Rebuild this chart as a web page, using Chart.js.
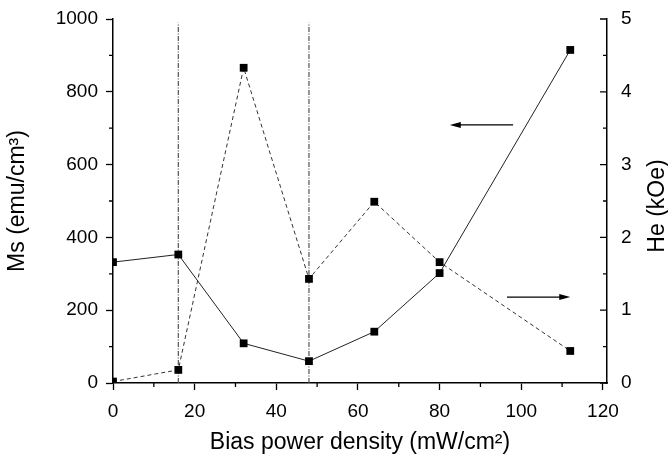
<!DOCTYPE html>
<html>
<head>
<meta charset="utf-8">
<script src="https://cdn.jsdelivr.net/npm/chart.js@4"></script>
<style>
html, body { margin: 0; padding: 0; background: #fff; }
#caja { width: 668px; height: 456px; }
</style>
</head>
<body>
<div id="caja"><canvas id="grafica"></canvas></div>
<script>
// Datos
const potencia = [0, 16, 32, 48, 64, 80, 112];           // mW/cm2
const ms = [332, 353, 109, 60, 141, 302, 915];           // emu/cm3 (eje izquierdo)
const he = [0.02, 0.18, 4.33, 1.43, 2.49, 1.66, 0.44];   // kOe (eje derecho)
const lineasX = [16, 48];       // líneas verticales punto-raya
const topeLineas = 990;         // hasta dónde suben (escala Ms)
const flechaMs = { desde: 98, hasta: 82.5, valor: 709 };  // apunta al eje Ms
const flechaHe = { desde: 96.5, hasta: 112, valor: 1.18 }; // apunta al eje He
const tituloHe = 'He (kOe)';
const fuente = 'Liberation Sans, Arial, sans-serif';

const puntosMs = potencia.map((x, i) => ({ x: x, y: ms[i] }));
const puntosHe = potencia.map((x, i) => ({ x: x, y: he[i] }));

const lineasVert = lineasX.map(v => ({
    data: [{ x: v, y: 0 }, { x: v, y: topeLineas }],
    borderColor: '#555',
    borderWidth: 1.2,
    borderDash: [5, 1.5, 1, 1.5],
    pointRadius: 0,
    yAxisID: 'y'
}));

// Marcas menores, marcas del eje derecho hacia dentro, flechas y título derecho
const extras = {
    id: 'extras',
    afterDraw(chart) {
        const ctx = chart.ctx;
        const { x, y, y2 } = chart.scales;
        ctx.save();
        ctx.strokeStyle = '#000';
        ctx.lineWidth = 1.3;
        ctx.beginPath();
        for (let v = 10; v < 121; v += 20) {
            const px = x.getPixelForValue(v);
            ctx.moveTo(px, y.bottom); ctx.lineTo(px, y.bottom + 4);
        }
        for (let v = 100; v < 1000; v += 200) {
            const py = y.getPixelForValue(v);
            ctx.moveTo(x.left, py); ctx.lineTo(x.left - 4, py);
        }
        for (let v = 0; v <= 5; v += 0.5) {
            const py = y2.getPixelForValue(v);
            const largo = (v % 1 === 0) ? 7 : 4;
            ctx.moveTo(x.right, py); ctx.lineTo(x.right - largo, py);
        }
        ctx.stroke();

        function flecha(x0, x1, py) {
            const a = x.getPixelForValue(x0);
            const b = x.getPixelForValue(x1);
            const dir = Math.sign(b - a);
            ctx.beginPath();
            ctx.lineWidth = 1.2;
            ctx.moveTo(a, py); ctx.lineTo(b - dir * 8, py);
            ctx.stroke();
            ctx.beginPath();
            ctx.moveTo(b, py);
            ctx.lineTo(b - dir * 11, py - 3);
            ctx.lineTo(b - dir * 11, py + 3);
            ctx.closePath();
            ctx.fillStyle = '#000';
            ctx.fill();
        }
        flecha(flechaMs.desde, flechaMs.hasta, y.getPixelForValue(flechaMs.valor));
        flecha(flechaHe.desde, flechaHe.hasta, y2.getPixelForValue(flechaHe.valor));

        // título del eje derecho, leído de abajo hacia arriba
        ctx.translate(y2.right - 10, (y2.top + y2.bottom) / 2 + 5);
        ctx.rotate(-Math.PI / 2);
        ctx.font = '23px ' + fuente;
        ctx.fillStyle = '#000';
        ctx.textAlign = 'center';
        ctx.textBaseline = 'middle';
        ctx.fillText(tituloHe, 0, 0);
        ctx.restore();
    }
};

new Chart(document.getElementById('grafica'), {
    type: 'line',
    data: {
        datasets: [
            {
                label: 'Ms',
                data: puntosMs,
                borderColor: '#222',
                borderWidth: 1,
                pointStyle: 'rect',
                pointRadius: 5.5,
                pointBackgroundColor: '#000',
                pointBorderWidth: 0,
                yAxisID: 'y'
            },
            {
                label: 'He',
                data: puntosHe,
                borderColor: '#333',
                borderWidth: 1,
                borderDash: [4, 3],
                pointStyle: 'rect',
                pointRadius: 5.5,
                pointBackgroundColor: '#000',
                pointBorderWidth: 0,
                yAxisID: 'y2'
            },
            ...lineasVert
        ]
    },
    options: {
        responsive: true,
        maintainAspectRatio: false,
        animation: false,
        layout: { padding: { top: 19, left: 0, right: 0, bottom: 0 } },
        plugins: {
            legend: { display: false },
            tooltip: { enabled: false }
        },
        scales: {
            x: {
                type: 'linear',
                min: 0,
                max: 121,
                afterFit: s => { s.height = 73; },
                ticks: { stepSize: 20, includeBounds: false, color: '#000', padding: 10,
                         font: { family: fuente, size: 19 } },
                grid: { drawOnChartArea: false, tickLength: 7, tickColor: '#000', tickWidth: 1.3 },
                border: { color: '#000', width: 1.5 },
                title: { display: true, text: 'Bias power density (mW/cm²)', color: '#000',
                         font: { family: fuente, size: 23 }, padding: { top: 0, bottom: 0 } }
            },
            y: {
                position: 'left',
                min: 0,
                max: 1000,
                afterFit: s => { s.width = 113; s.paddingTop = 0; s.paddingBottom = 0; },
                ticks: { stepSize: 200, color: '#000', padding: 8,
                         callback: v => String(v),
                         font: { family: fuente, size: 19 } },
                grid: { drawOnChartArea: false, tickLength: 7, tickColor: '#000', tickWidth: 1.3 },
                border: { color: '#000', width: 1.5 },
                title: { display: true, text: 'Ms (emu/cm³)', color: '#000',
                         font: { family: fuente, size: 23 }, padding: { top: 4, bottom: 4 } }
            },
            y2: {
                position: 'right',
                min: 0,
                max: 5,
                afterFit: s => { s.width = 61; s.paddingTop = 0; s.paddingBottom = 0; },
                ticks: { stepSize: 1, color: '#000', padding: 14,
                         font: { family: fuente, size: 19 } },
                grid: { drawOnChartArea: false, drawTicks: false },
                border: { color: '#000', width: 1.5 }
            }
        }
    },
    plugins: [extras]
});
</script>
</body>
</html>
